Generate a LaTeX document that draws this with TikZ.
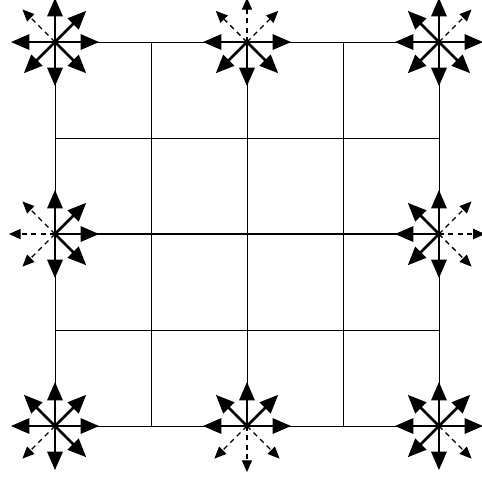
\documentclass[tikz,border=0pt]{standalone}
\usetikzlibrary{arrows.meta}
\tikzset{
  vel/.style={line width=1.6pt,-{Triangle[length=11pt,width=9pt]}},
  velout/.style={line width=0.8pt,dash pattern=on 3pt off 2.5pt,-{Triangle[length=7pt,width=6pt]}},
}
\begin{document}
\begin{tikzpicture}[x=2cm,y=2cm]
	\useasboundingbox (-0.573,-0.604) rectangle (4.438,4.438);
	\draw[line width=0.5pt,step=2cm] (0,0) grid (4,4);
	\draw[line width=1.4pt] (0,2) -- (4,2);
	% boundary nodes
	\coordinate (tl) at (0,4);
	\coordinate (tm) at (2,4);
	\coordinate (tr) at (4,4);
	\coordinate (ml) at (0,2);
	\coordinate (mr) at (4,2);
	\coordinate (bl) at (0,0);
	\coordinate (bm) at (2,0);
	\coordinate (br) at (4,0);
	% top row
	\foreach \a in {0,45,90,180,225,270,315} {\draw[vel] (tl) -- ++(\a:0.46);}
	\draw[velout] (tl) -- ++(135:0.48);
	\foreach \a in {0,180,225,270,315} {\draw[vel] (tm) -- ++(\a:0.46);}
	\foreach \a in {45,90,135} {\draw[velout] (tm) -- ++(\a:0.46);}
	\foreach \a in {0,90,135,180,225,270,315} {\draw[vel] (tr) -- ++(\a:0.46);}
	\draw[velout] (tr) -- ++(45:0.48);
	% middle row
	\foreach \a in {0,45,90,270,315} {\draw[vel] (ml) -- ++(\a:0.46);}
	\foreach \a in {135,180,225} {\draw[velout] (ml) -- ++(\a:0.48);}
	\foreach \a in {90,135,180,225,270} {\draw[vel] (mr) -- ++(\a:0.46);}
	\foreach \a in {0,45,315} {\draw[velout] (mr) -- ++(\a:0.48);}
	% bottom row
	\foreach \a in {0,45,90,135,180,270,315} {\draw[vel] (bl) -- ++(\a:0.46);}
	\draw[velout] (bl) -- ++(225:0.48);
	\foreach \a in {0,45,90,135,180} {\draw[vel] (bm) -- ++(\a:0.46);}
	\foreach \a in {225,270,315} {\draw[velout] (bm) -- ++(\a:0.48);}
	\foreach \a in {0,45,90,135,180,225,270} {\draw[vel] (br) -- ++(\a:0.46);}
	\draw[velout] (br) -- ++(315:0.48);
\end{tikzpicture}
\end{document}
